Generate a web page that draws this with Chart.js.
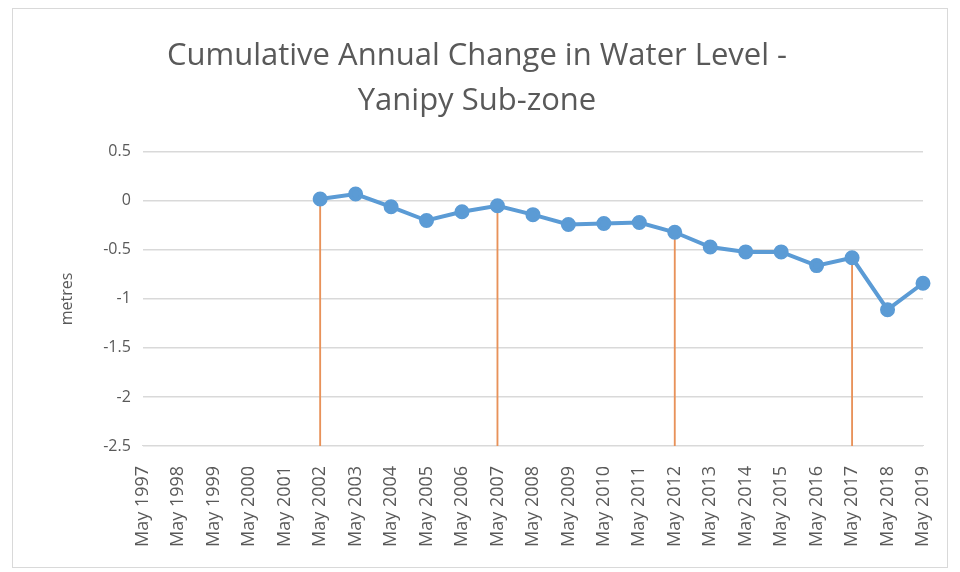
<!DOCTYPE html>
<html>
<head>
<meta charset="utf-8">
<script src="https://cdn.jsdelivr.net/npm/chart.js@4.4.1/dist/chart.umd.min.js"></script>
<style>
  body { margin: 0; background: #fff; }
  #frame {
    position: absolute; left: 12px; top: 8px;
    width: 936px; height: 560px;
    border: 1px solid #d9d9d9; box-sizing: border-box;
  }
  canvas { display: block; }
</style>
</head>
<body>
<div id="frame"><canvas id="waterChart"></canvas></div>
<script>
// Data
const years = ['May 1997', 'May 1998', 'May 1999', 'May 2000', 'May 2001', 'May 2002',
  'May 2003', 'May 2004', 'May 2005', 'May 2006', 'May 2007', 'May 2008', 'May 2009',
  'May 2010', 'May 2011', 'May 2012', 'May 2013', 'May 2014', 'May 2015', 'May 2016',
  'May 2017', 'May 2018', 'May 2019'];

const waterLevel = [null, null, null, null, null, 0.02,
  0.07, -0.06, -0.2, -0.11, -0.05, -0.14, -0.24,
  -0.23, -0.22, -0.32, -0.47, -0.52, -0.52, -0.66,
  -0.58, -1.11, -0.84];

// five-yearly markers drawn as thin floating bars from the axis floor up to the value
const markerYears = ['May 2002', 'May 2007', 'May 2012', 'May 2017'];

const yMin = -2.5;
const yMax = 0.5;

const markerData = years.map((y, i) =>
  markerYears.includes(y) ? [yMin, waterLevel[i]] : null);

const ctx = document.getElementById('waterChart').getContext('2d');
const waterChart = new Chart(ctx, {
  data: {
    labels: years,
    datasets: [
      {
        type: 'line',
        label: 'Cumulative change',
        data: waterLevel,
        borderColor: '#5B9BD5',
        backgroundColor: '#5B9BD5',
        borderWidth: 4,
        pointRadius: 5.5,
        pointHoverRadius: 5.5,
        spanGaps: false,
        order: 1
      },
      {
        type: 'bar',
        label: 'Five-year marker',
        data: markerData,
        backgroundColor: '#E8925A',
        barThickness: 1.2,
        order: 2
      }
    ]
  },
  options: {
    responsive: true,
    maintainAspectRatio: false,
    animation: false,
    layout: { padding: { left: 18, right: 24, top: 13, bottom: 8 } },
    plugins: {
      legend: { display: false },
      tooltip: { enabled: false },
      title: {
        display: true,
        text: ['Cumulative Annual Change in Water Level -', 'Yanipy Sub-zone'],
        color: '#595959',
        font: { family: 'Open Sans', size: 31, weight: 'normal', lineHeight: 1.45 },
        padding: { top: 12, bottom: 28 }
      }
    },
    scales: {
      x: {
        offset: false,
        grid: { display: false },
        border: { color: '#d9d9d9' },
        afterFit: (scale) => { scale.paddingRight = 0; },
        ticks: {
          color: '#595959',
          font: { family: 'Open Sans', size: 18 },
          minRotation: 90,
          maxRotation: 90,
          autoSkip: false,
          padding: 12
        }
      },
      y: {
        min: yMin,
        max: yMax,
        ticks: {
          stepSize: 0.5,
          color: '#595959',
          font: { family: 'Open Sans', size: 16 },
          padding: 12,
          callback: (value) => String(value)
        },
        grid: { color: '#d9d9d9', lineWidth: 1.5, drawTicks: false },
        border: { display: false },
        title: {
          display: true,
          text: 'metres',
          color: '#595959',
          font: { family: 'Open Sans', size: 16 },
          padding: { top: 27, bottom: 14 }
        }
      }
    }
  }
});
</script>
</body>
</html>
